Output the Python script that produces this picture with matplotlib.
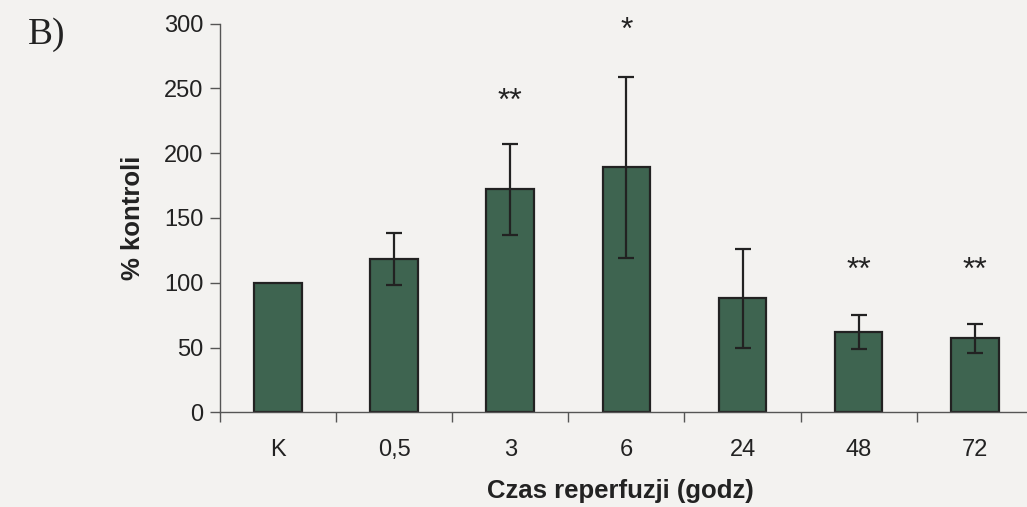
import matplotlib
matplotlib.use('Agg')
import matplotlib.pyplot as plt
import numpy as np

# ── dane ──
categories = ['K', '0,5', '3', '6', '24', '48', '72']
values = [100, 118, 172, 189, 88, 62, 57]
errors = [0, 20, 35, 70, 38, 13, 11]
stars = ['', '', '**', '*', '', '**', '**']
star_y = [0, 0, 233, 288, 0, 103, 103]   # linia bazowa gwiazdek

BG = '#f3f2f0'
BAR = '#3e6450'
AX = '#555555'

plt.rcParams['font.family'] = ['Liberation Sans', 'DejaVu Sans']

fig = plt.figure(figsize=(10.27, 5.07), dpi=100, facecolor=BG)
ax = fig.add_axes([220 / 1027, 94.7 / 507, 807 / 1027, 388.8 / 507])
ax.set_facecolor(BG)

x = np.arange(len(categories))
ax.bar(x, values, width=0.41, color=BAR, edgecolor='#222222', linewidth=1.6, zorder=2)
idx = [i for i, e in enumerate(errors) if e > 0]
ax.errorbar(x[idx], np.array(values)[idx], yerr=np.array(errors)[idx], fmt='none',
            ecolor='#222222', elinewidth=1.6, capsize=6, capthick=1.6, zorder=3)

# ── gwiazdki ──
for i, s in enumerate(stars):
    if s:
        ax.text(x[i], star_y[i], s, ha='center', va='baseline', fontsize=23,
                color='#222222', clip_on=False)

ax.set_xlim(-0.5, 6.45)
ax.set_ylim(0, 300)
ax.set_yticks(range(0, 301, 50))
ax.tick_params(axis='y', length=7, width=1, color=AX, pad=5, labelsize=17,
               labelcolor='#222222')

ax.set_xticks(np.arange(-0.5, 6.5, 1.0))
ax.set_xticklabels([])
ax.tick_params(axis='x', which='major', length=7, width=1, color=AX)
ax.set_xticks(x, minor=True)
ax.set_xticklabels(categories, minor=True)
ax.tick_params(axis='x', which='minor', length=0, pad=19, labelsize=17,
               labelcolor='#222222')

for side in ['top', 'right']:
    ax.spines[side].set_visible(False)
for side in ['left', 'bottom']:
    ax.spines[side].set_color(AX)
    ax.spines[side].set_linewidth(1)

ax.set_ylabel('% kontroli', fontsize=18.5, fontweight='bold', color='#222222',
              va='center')
ax.yaxis.set_label_coords(-0.108, 0.5)
ax.set_xlabel('Czas reperfuzji (godz)', fontsize=18.5, fontweight='bold',
              color='#222222', va='center')
ax.xaxis.set_label_coords(0.496, -0.202)

fig.text(28 / 1027, 1 - 35 / 507, 'B)', family='Liberation Serif', fontsize=27,
         ha='left', va='center', color='#222222')

fig.savefig('out.png', dpi=100, facecolor=BG)
